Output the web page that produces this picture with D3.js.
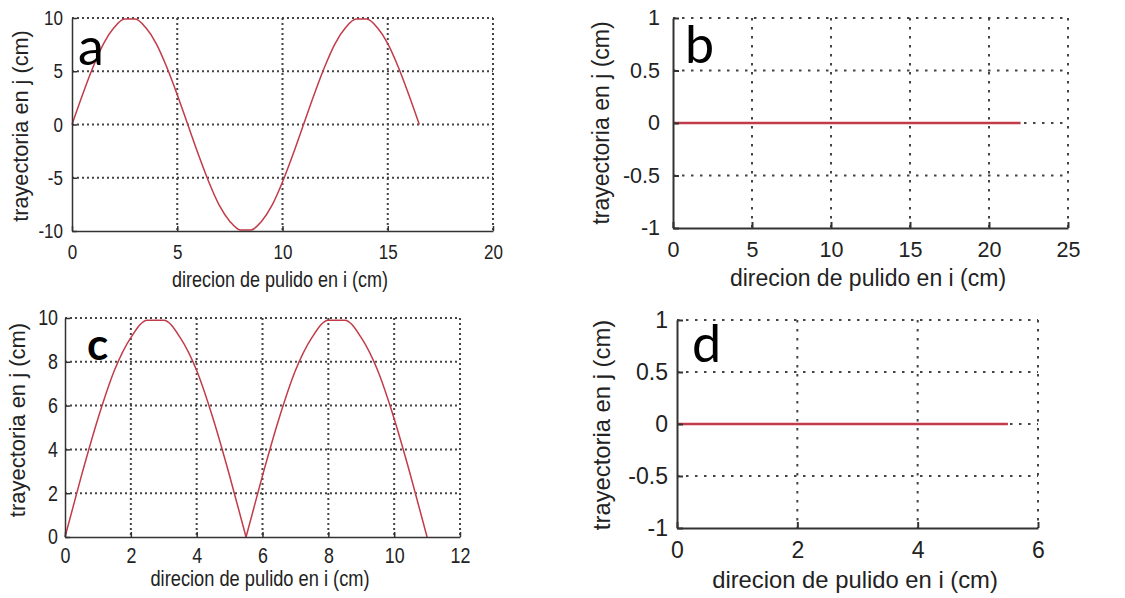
<!DOCTYPE html>
<html>
<head>
<meta charset="utf-8">
<script src="https://cdn.jsdelivr.net/npm/d3@7"></script>
<style>
body { margin: 0; background: #fff; }
svg { display: block; }
</style>
</head>
<body>
<svg id="chart" width="1125" height="598"></svg>
<script>
// values
var xLabel = "direcion de pulido en i (cm)";
var yLabel = "trayectoria en j (cm)";

var aX = [0,0.5,1,1.5,2,2.5,3,3.5,4,4.5,5,5.5,6,6.5,7,7.5,8,8.5,9,9.5,10,10.5,11,11.5,12,12.5,13,13.5,14,14.5,15,15.5,16,16.5];
var aY = [0,2.8,5.4,7.6,9.1,9.9,9.9,9.1,7.6,5.4,2.8,0,-2.8,-5.4,-7.6,-9.1,-9.9,-9.9,-9.1,-7.6,-5.4,-2.8,0,2.8,5.4,7.6,9.1,9.9,9.9,9.1,7.6,5.4,2.8,0];
var aXTicks = [0,5,10,15,20];
var aYTicks = [-10,-5,0,5,10];

var bX = [0,22];
var bY = [0,0];
var bXTicks = [0,5,10,15,20,25];
var bYTicks = [-1,-0.5,0,0.5,1];

var cX = [0,0.5,1,1.5,2,2.5,3,3.5,4,4.5,5,5.5,6,6.5,7,7.5,8,8.5,9,9.5,10,10.5,11];
var cY = [0,2.8,5.4,7.6,9.1,9.9,9.9,9.1,7.6,5.4,2.8,0,2.8,5.4,7.6,9.1,9.9,9.9,9.1,7.6,5.4,2.8,0];
var cXTicks = [0,2,4,6,8,10,12];
var cYTicks = [0,2,4,6,8,10];

var dX = [0,5.5];
var dY = [0,0];
var dXTicks = [0,2,4,6];
var dYTicks = [-1,-0.5,0,0.5,1];

var panels = [
  {letter:"a", xs:aX, ys:aY, xt:aXTicks, yt:aYTicks,
   box:{l:72, r:493, t:18, b:231}, squeeze:0.83, tickFont:20.5, padX:13, padY:9, tick:5,
   labFont:21.7, xLab:[280,287], yLab:[28,126],
   let:{x:78, y:65, size:52, weight:400}, dash:"2,3", lineW:1.5, axisW:1.5},
  {letter:"b", xs:bX, ys:bY, xt:bXTicks, yt:bYTicks,
   box:{l:673, r:1068, t:18, b:228}, squeeze:1, tickFont:21.5, padX:14, padY:13, tick:6,
   labFont:23, xLab:[868,286], yLab:[609,123],
   let:{x:685, y:63, size:52, weight:400}, dash:"2.5,6.5", lineW:2.5, axisW:2},
  {letter:"c", xs:cX, ys:cY, xt:cXTicks, yt:cYTicks,
   box:{l:65, r:460, t:318, b:537}, squeeze:0.83, tickFont:21.5, padX:11, padY:7, tick:5,
   labFont:22, xLab:[260,586], yLab:[25,420],
   let:{x:87, y:360, size:44, weight:700}, dash:"2,3", lineW:1.5, axisW:1.5},
  {letter:"d", xs:dX, ys:dY, xt:dXTicks, yt:dYTicks,
   box:{l:677, r:1038, t:320, b:528}, squeeze:1, tickFont:23, padX:14, padY:9, tick:6,
   labFont:23.8, xLab:[855,588], yLab:[610,425],
   let:{x:692, y:362, size:52, weight:400}, dash:"2.5,6.5", lineW:2.5, axisW:2}
];

var svg = d3.select("#chart");
var font = "'Liberation Sans', Arial, sans-serif";

// squash text horizontally (the left panels are compressed in the source)
function squeezeText(sel, k) {
  if (k === 1) return;
  sel.each(function() {
    var t = d3.select(this);
    var x = +t.attr("x") || 0, y = +t.attr("y") || 0;
    t.attr("x", null).attr("y", null)
      .attr("transform", "translate(" + x + "," + y + ") scale(" + k + ",1)");
  });
}

// split the points at cusps (a zero touched from the same side) so the V stays sharp
function splitAtCusps(xs, ys) {
  var segs = [], cur = [];
  xs.forEach(function(v, i) {
    cur.push([v, ys[i]]);
    if (i > 0 && i < xs.length - 1 && ys[i] === 0 && ys[i - 1] * ys[i + 1] > 0) {
      segs.push(cur);
      cur = [[v, ys[i]]];
    }
  });
  segs.push(cur);
  return segs;
}

panels.forEach(function(p) {
  var x = d3.scaleLinear()
      .domain([p.xt[0], p.xt[p.xt.length - 1]])
      .range([p.box.l, p.box.r]);
  var y = d3.scaleLinear()
      .domain([p.yt[0], p.yt[p.yt.length - 1]])
      .range([p.box.b, p.box.t]);

  var g = svg.append("g").attr("class", "panel-" + p.letter);

  // dotted grid
  g.selectAll(".vgrid")
    .data(p.xt.slice(1))
    .enter().append("line")
      .attr("class", "vgrid")
      .attr("x1", function(d) { return x(d); })
      .attr("x2", function(d) { return x(d); })
      .attr("y1", p.box.t)
      .attr("y2", p.box.b)
      .style("stroke", "#444")
      .style("stroke-width", 2)
      .style("stroke-dasharray", p.dash);

  g.selectAll(".hgrid")
    .data(p.yt.slice(1))
    .enter().append("line")
      .attr("class", "hgrid")
      .attr("x1", p.box.l)
      .attr("x2", p.box.r)
      .attr("y1", function(d) { return y(d); })
      .attr("y2", function(d) { return y(d); })
      .style("stroke", "#444")
      .style("stroke-width", 2)
      .style("stroke-dasharray", p.dash);

  // curve
  var line = d3.line()
      .curve(d3.curveMonotoneX)
      .x(function(d) { return x(d[0]); })
      .y(function(d) { return y(d[1]); });
  g.selectAll(".curve")
    .data(splitAtCusps(p.xs, p.ys))
    .enter().append("path")
      .attr("class", "curve")
      .attr("d", line)
      .style("fill", "none")
      .style("stroke", "#c23b48")
      .style("stroke-width", p.lineW)
      .style("stroke-linejoin", "round");

  // axes, ticks pointing inward
  var fmt = function(d) { return String(d); };
  var gx = g.append("g")
      .attr("transform", "translate(0," + p.box.b + ")")
      .call(d3.axisBottom(x).tickValues(p.xt).tickFormat(fmt)
        .tickSizeInner(-p.tick).tickSizeOuter(0).tickPadding(p.padX));
  var gy = g.append("g")
      .attr("transform", "translate(" + p.box.l + ",0)")
      .call(d3.axisLeft(y).tickValues(p.yt).tickFormat(fmt)
        .tickSizeInner(-p.tick).tickSizeOuter(0).tickPadding(p.padY));

  [gx, gy].forEach(function(ax) {
    ax.select(".domain").style("stroke", "#333").style("stroke-width", p.axisW);
    ax.selectAll(".tick line").style("stroke", "#333").style("stroke-width", p.axisW);
    ax.selectAll(".tick text")
      .style("font-family", font)
      .style("font-size", p.tickFont + "px")
      .style("fill", "#222");
    squeezeText(ax.selectAll(".tick text"), p.squeeze);
  });

  // axis labels
  g.append("text")
    .attr("text-anchor", "middle")
    .attr("transform", "translate(" + p.xLab[0] + "," + p.xLab[1] + ") scale(" + p.squeeze + ",1)")
    .style("font-family", font)
    .style("font-size", p.labFont + "px")
    .style("fill", "#222")
    .text(xLabel);

  g.append("text")
    .attr("text-anchor", "middle")
    .attr("transform", "translate(" + p.yLab[0] + "," + p.yLab[1] + ") rotate(-90)")
    .style("font-family", font)
    .style("font-size", p.labFont + "px")
    .style("fill", "#222")
    .text(yLabel);

  // panel letter
  g.append("text")
    .attr("x", p.let.x)
    .attr("y", p.let.y)
    .style("font-family", "Lato, 'Open Sans', sans-serif")
    .style("font-size", p.let.size + "px")
    .style("font-weight", p.let.weight)
    .style("fill", "#000")
    .text(p.letter);
});
</script>
</body>
</html>
